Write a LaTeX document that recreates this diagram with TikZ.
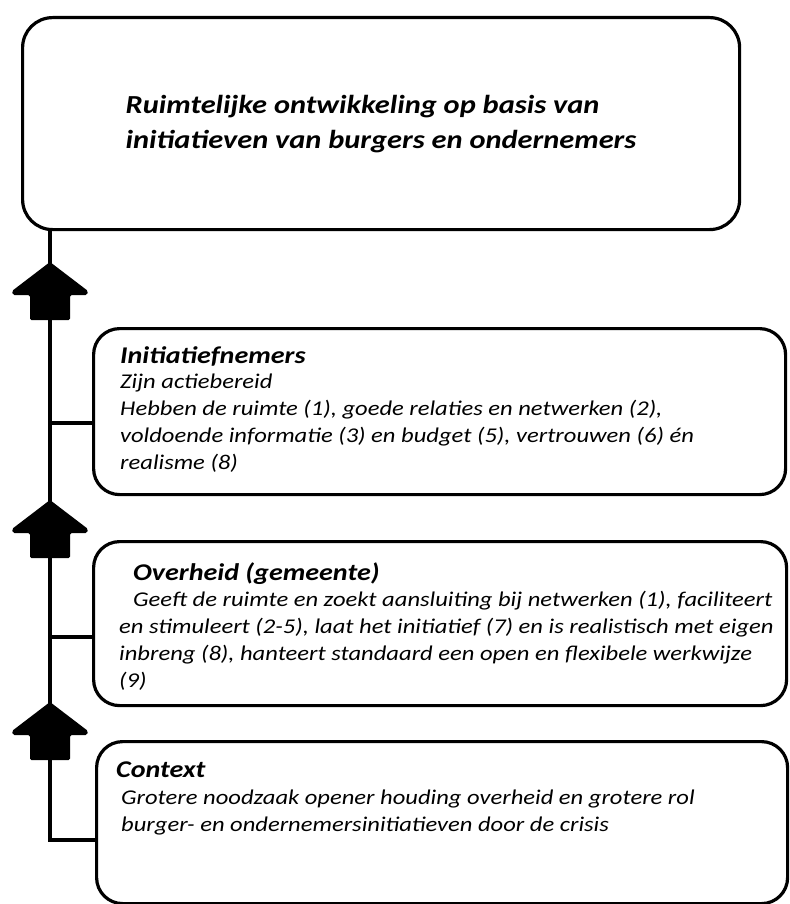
\documentclass[tikz,border=0pt]{standalone}
\usepackage{fontspec}
\setmainfont{Carlito}[FakeStretch=1.17]
\usetikzlibrary{positioning}

\newcommand{\stagetitle}[1]{{\bfseries\fontsize{24}{27}\selectfont #1}}

\begin{document}
\begin{tikzpicture}[
    x=1pt, y=-1pt,
    goalbox/.style={rectangle, rounded corners=30pt, draw, line width=3.2pt,
                    minimum width=717pt, minimum height=212pt, anchor=north west,
                    align=left, font=\bfseries\itshape\fontsize{26}{35}\selectfont},
    stagebox/.style={rectangle, rounded corners=26pt, draw, line width=3.2pt,
                     minimum width=#1, minimum height=164pt, anchor=north west},
    stagetext/.style={anchor=base west, align=left, inner sep=0pt,
                      font=\itshape\fontsize{21}{27}\selectfont},
    link/.style={line width=3.4pt},
    uparrow/.pic={\fill[rounded corners=1.5pt] (0,0) -- (38,29) -- (37,33) -- (20,33)
                  -- (20,58) -- (-20,58) -- (-20,33) -- (-37,33) -- (-38,29) -- cycle;}
  ]
  \useasboundingbox (0,0) rectangle (789,904);

  % goal
  \node[goalbox] (goal) at (21,16) {Ruimtelijke ontwikkeling op basis van\\initiatieven van burgers en ondernemers};

  % stages
  \node[stagebox=692pt, minimum height=166pt] (initBox) at (92,327) {};
  \node[stagetext] (initText) at (120,469) {\stagetitle{Initiatiefnemers}\\[-2pt]
    Zijn actiebereid\\
    Hebben de ruimte (1), goede relaties en netwerken (2),\\
    voldoende informatie (3) en budget (5), vertrouwen (6) én\\
    realisme (8)};

  \node[stagebox=693pt] (ovhBox) at (92,540) {};
  \node[stagetext] (ovhText) at (119,687) {\hspace*{14pt}\stagetitle{Overheid (gemeente)}\\[-1pt]
    \hspace*{14pt}Geeft de ruimte en zoekt aansluiting bij netwerken (1), faciliteert\\
    en stimuleert (2-5), laat het initiatief (7) en is realistisch met eigen\\
    inbreng (8), hanteert standaard een open en flexibele werkwijze\\
    (9)};

  \node[stagebox=691pt, minimum height=162pt] (ctxBox) at (95,740) {};
  \node[stagetext] (ctxText) at (116,831) {\stagetitle{Context}\\
    \hspace*{5pt}Grotere noodzaak opener houding overheid en grotere rol\\
    \hspace*{5pt}burger- en ondernemersinitiatieven door de crisis};

  % spine
  \coordinate (j1) at (50,423);
  \coordinate (j2) at (50,637);
  \coordinate (j3) at (50,840);
  \draw[link] (goal.south -| j1) -- (j3) -- (j3 -| ctxBox.west);
  \draw[link] (j1) -- (j1 -| initBox.west);
  \draw[link] (j2) -- (j2 -| ovhBox.west);

  \pic at (50,262) {uparrow};
  \pic at (50,500) {uparrow};
  \pic at (50,702) {uparrow};
\end{tikzpicture}
\end{document}
